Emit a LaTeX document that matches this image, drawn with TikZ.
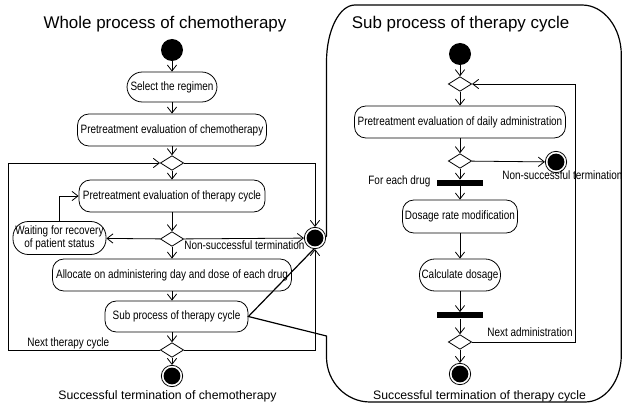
\documentclass[tikz,border=0pt]{standalone}
\usepackage{fontspec}
\setmainfont{Liberation Sans}
\newfontfamily\narrowfont[FakeStretch=0.82]{Liberation Sans}
\usetikzlibrary{arrows.meta,shapes.geometric}
\begin{document}
\begin{tikzpicture}[x=0.75pt,y=-0.75pt,
  line width=0.6pt,
  arr/.style={-{Straight Barb[length=4.5pt,width=7pt,line width=0.6pt]}},
  act/.style 2 args={draw,rectangle,rounded corners=8.5pt,inner sep=0pt,align=center,
    minimum width=#1*0.75pt,minimum height=#2*0.75pt,font=\narrowfont\fontsize{9.1}{7.6}\selectfont},
  pill/.style 2 args={act={#1}{#2},rounded corners=11.5pt},
  dec/.style={draw,diamond,inner sep=0pt,minimum width=17.5pt,minimum height=11pt},
  startdot/.style={circle,fill=black,inner sep=0pt,minimum size=16.5pt},
  enddot/.style={circle,draw,fill=white,inner sep=0pt,minimum size=16pt,
    path picture={\fill[black] (path picture bounding box.center) circle (6.3pt);}},
  bar/.style={rectangle,fill=black,inner sep=0pt,minimum width=34.5pt,minimum height=4.5pt},
  lbl/.style={inner sep=0pt,font=\narrowfont\fontsize{9.1}{9}\selectfont},
  title/.style={inner sep=0pt,font=\fontsize{12.7}{14}\selectfont},
  foot/.style={inner sep=0pt,font=\fontsize{9.2}{11}\selectfont}]
\useasboundingbox (0,0) rectangle (622,406);

% ---------- whole process of chemotherapy ----------
\node[title,anchor=base] (ttl) at (165,29) {Whole process of chemotherapy};
\node[startdot] (s0) at (172,50) {};
\node[pill={90}{30}] (sel) at (172,87) {Select the regimen};
\node[act={189}{32}] (pchem) at (172,130) {Pretreatment evaluation of chemotherapy};
\node[dec] (d1) at (172,163) {};
\node[act={186}{32}] (pcyc) at (172,196) {Pretreatment evaluation of therapy cycle};
\node[dec] (d2) at (172,239) {};
\node[pill={93}{33}] (wait) at (59.5,238) {Waiting for recovery\\of patient status};
\node[act={239}{32}] (alloc) at (172,275) {Allocate on administering day and dose of each drug};
\node[act={143}{31}] (sub) at (176.5,316.5) {Sub process of therapy cycle};
\node[dec] (d3) at (172,350) {};
\node[foot,anchor=base] (ok0) at (167.5,400) {Successful termination of chemotherapy};

\coordinate (fl1) at (8,350);
\coordinate (fl2) at (8,163);
\coordinate (fr1) at (315,163);
\coordinate (fr2) at (315,350);

% ---------- callout with the sub process ----------
\coordinate (c0) at (326.5,236);
\coordinate (c1) at (326.5,336);
\draw[line width=0.9pt] (c0) -- (326.5,62)
  .. controls (326.5,30.5) and (339.3,5) .. (355,5)
  -- (582,5)
  .. controls (603.8,5) and (621.3,27.4) .. (621.3,55)
  -- (621.3,355)
  .. controls (621.3,381) and (605.1,402) .. (585,402)
  -- (370,402)
  .. controls (346,402) and (326.5,381.8) .. (326.5,357)
  -- (c1) -- (sub.east) -- cycle;

\node[enddot] (t0) at (315,238) {};
\node[enddot] (f0) at (172,376) {};

\node[lbl,anchor=base west] (nt0) at (184,249.5) {Non-successful termination};
\node[lbl,anchor=base west] (nc0) at (27,347) {Next therapy cycle};

\draw[arr] (s0) -- (sel);
\draw[arr] (sel) -- (pchem);
\draw[arr] (pchem) -- (d1);
\draw[arr] (d1) -- (pcyc);
\draw[arr] (pcyc) -- (d2);
\draw[arr] (d2) -- (wait);
\draw[arr] (wait.north) |- (pcyc.west);
\draw[arr] (d2) -- (t0);
\draw[arr] (d2) -- (alloc);
\draw[arr] (alloc.south) -- (alloc.south |- sub.north);
\draw[arr] (sub.south -| d3) -- (d3);
\draw[arr] (d3) -- (f0);
\draw[arr] (d3.west) -- (fl1) -- (fl2) -- (d1.west);
\draw[arr] (d1.east) -- (fr1) -- (t0.north);
\draw[arr] (d3.east) -- (fr2) -- (t0.south);

% ---------- sub process of therapy cycle ----------
\node[title,anchor=base] (ttr) at (460.5,29) {Sub process of therapy cycle};
\node[startdot] (s1) at (460,54) {};
\node[dec] (r1) at (460,84) {};
\node[act={211}{32}] (daily) at (460,122) {Pretreatment evaluation of daily administration};
\node[dec] (r2) at (460,161) {};
\node[enddot] (t1) at (556,162) {};
\node[bar] (b1) at (460,183) {};
\node[act={115}{33}] (dose) at (460,216.5) {Dosage rate modification};
\node[pill={81}{32}] (calc) at (460,275) {Calculate dosage};
\node[bar] (b2) at (460,315.5) {};
\node[dec] (r3) at (460,342) {};
\node[enddot] (f1) at (460,374) {};

\node[lbl,anchor=base west] (nt1) at (502,180) {Non-successful termination};
\node[lbl,anchor=base west] (fed) at (368,185) {For each drug};
\node[lbl,anchor=base west] (nad) at (487,337) {Next administration};
\node[foot,anchor=base] (ok1) at (479.5,400) {Successful termination of therapy cycle};

\coordinate (rr1) at (575,342);
\coordinate (rr2) at (575,84);

\draw[arr] (s1) -- (r1);
\draw[arr] (r1) -- (daily);
\draw[arr] (daily) -- (r2);
\draw[arr] (r2) -- (t1);
\draw[arr] (r2) -- (b1);
\draw[arr] (b1) -- (dose);
\draw[arr] (dose) -- (calc);
\draw[arr] (calc) -- (b2);
\draw[arr] (b2) -- (r3);
\draw[arr] (r3) -- (f1);
\draw[arr] (r3.east) -- (rr1) -- (rr2) -- (r1.east);
\end{tikzpicture}
\end{document}
